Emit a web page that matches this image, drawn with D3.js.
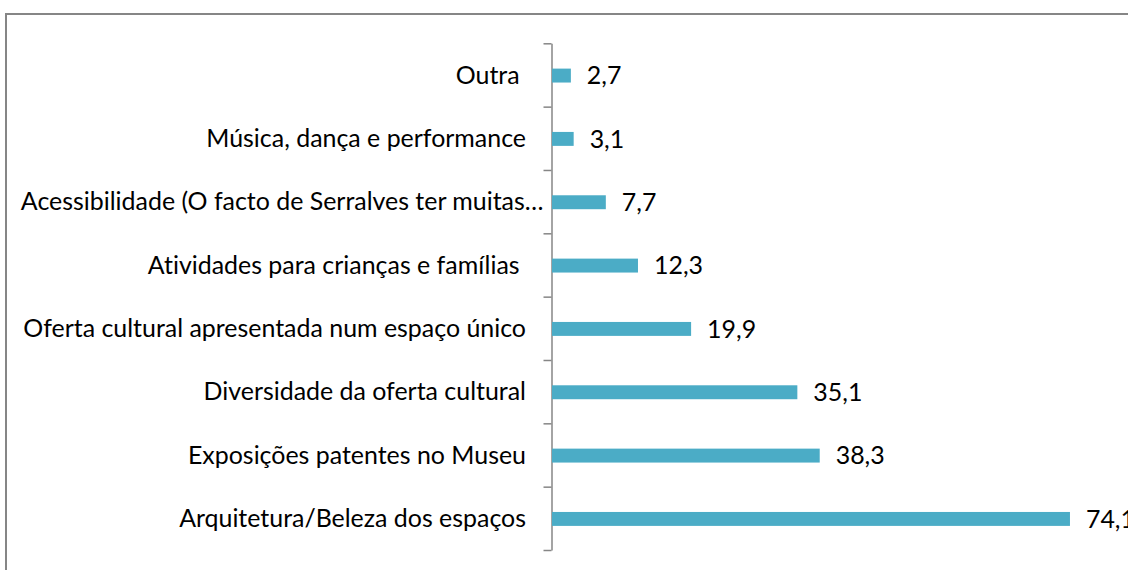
<!DOCTYPE html>
<html><head><meta charset="utf-8">
<script src="https://cdn.jsdelivr.net/npm/d3@7"></script>
<style>
html,body{margin:0;padding:0;background:#fff;}
svg{display:block;}
text{font-family:Lato,"Open Sans",sans-serif;fill:#000;white-space:pre;font-variant-ligatures:none;font-feature-settings:"liga" 0,"clig" 0;}
</style></head>
<body>
<svg id="chart" width="1128" height="570"></svg>
<script>
// Data (top to bottom)
const categories = [
  "Outra ",
  "Música, dança e performance",
  "Acessibilidade (O facto de Serralves ter muitas…",
  "Atividades para crianças e famílias ",
  "Oferta cultural apresentada num espaço único",
  "Diversidade da oferta cultural",
  "Exposições patentes no Museu",
  "Arquitetura/Beleza dos espaços"
];
const values = [2.7, 3.1, 7.7, 12.3, 19.9, 35.1, 38.3, 74.1];
const xDomain = [0, 80];

const svg = d3.select("#chart");
const W = 1128, H = 570;

// chart area border
svg.append("rect").attr("x", 6).attr("y", 14).attr("width", W + 20).attr("height", H + 20)
  .attr("fill", "none").attr("stroke", "#868686").attr("stroke-width", 2);

const plotTop = 43.3, plotBottom = 550, x0 = 551.5;
const x = d3.scaleLinear().domain(xDomain).range([x0, x0 + 80 * 6.99]);
const y = d3.scaleBand().domain(categories).range([plotTop, plotBottom]).paddingInner(0.78).paddingOuter(0.39);

// axis with ticks at category boundaries
const yb = d3.scaleLinear().domain([0, categories.length]).range([plotTop, plotBottom]);
const axis = svg.append("g").attr("transform", `translate(${x0},0)`)
  .call(d3.axisLeft(yb).tickValues(d3.range(categories.length + 1)).tickSize(8).tickSizeOuter(0).tickFormat(""));
axis.selectAll("path,line").attr("stroke", "#868686").attr("stroke-width", 1.5);

// font sizing: fit reference width of longest label
const probe = svg.append("text").style("font-size", "100px").text("Oferta cultural apresentada num espaço único");
const fs = 100 * 503 / probe.node().getComputedTextLength();
probe.remove();

// bars
svg.append("g").selectAll("rect").data(values).join("rect")
  .attr("x", x(0) + 0.5)
  .attr("y", (d, i) => y(categories[i]) + 0.6)
  .attr("width", d => x(d) - x(0))
  .attr("height", y.bandwidth())
  .attr("fill", "#4BACC6");

const loc = d3.formatLocale({decimal: ",", thousands: ".", grouping: [3], currency: ["", "€"]});
const fmt = loc.format(".1f");

// value labels
svg.append("g").selectAll("text").data(values).join("text")
  .attr("x", d => x(d) + 16.5)
  .attr("y", (d, i) => y(categories[i]) + y.bandwidth() / 2 + 0.6)
  .attr("dy", "0.35em")
  .style("font-size", fs + "px")
  .text(d => fmt(d));

// category labels
svg.append("g").selectAll("text").data(categories).join("text")
  .attr("x", d => d.endsWith("…") ? 543.5 : 526)
  .attr("y", d => y(d) + y.bandwidth() / 2)
  .attr("dy", "0.35em")
  .attr("text-anchor", "end")
  .style("font-size", fs + "px")
  .text(d => d);
</script>
</body></html>
